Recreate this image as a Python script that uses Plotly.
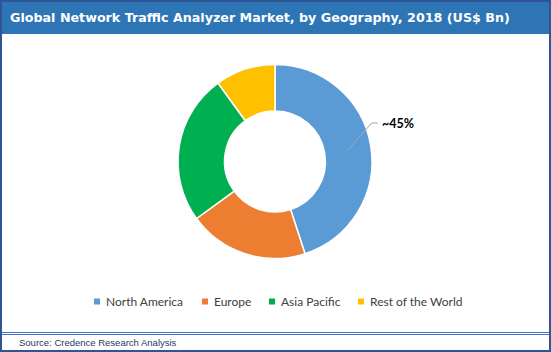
import math
import plotly.graph_objects as go

W, H = 551, 352

regions = ["North America", "Europe", "Asia Pacific", "Rest of the World"]
shares = [45, 20, 25, 10]
colors = ["#5B9BD5", "#ED7D31", "#00B050", "#FFC000"]

title = "Global Network Traffic Analyzer Market, by Geography, 2018 (US$ Bn)"
source = "Source: Credence Research Analysis"

# donut geometry in pixels
cx, cy, R = 275, 161.5, 97
hole = 0.52

# legend layout (pixel x of each swatch), row centre
legend_x = [94, 202, 269, 358]
legend_y = 301.5
sw = 6

def px(x):
    return x / W

def py(y):
    return 1 - y / H

fig = go.Figure()
fig.add_trace(go.Pie(
    labels=regions, values=shares, hole=hole, sort=False, direction="clockwise",
    rotation=0, marker=dict(colors=colors, line=dict(color="white", width=1.5)),
    textinfo="none", hoverinfo="label+percent", showlegend=False,
    domain=dict(x=[px(cx - R), px(cx + R)], y=[py(cy + R), py(cy - R)]),
))

# leader line + label for the largest slice, computed from data
total = sum(shares)
mid_ang = math.radians(shares[0] / total * 360 / 2)
rmid = R * (1 + hole) / 2
ax0 = cx + rmid * math.sin(mid_ang)
ay0 = cy - rmid * math.cos(mid_ang)
ex, ey = ax0 + 24, ay0 - 27
hx = ex + 6
fig.add_shape(type="path", xref="paper", yref="paper",
              path=f"M {px(ax0)} {py(ay0)} L {px(ex)} {py(ey)} L {px(hx)} {py(ey)}",
              line=dict(color="#A6A6A6", width=1))
fig.add_annotation(x=px(hx + 2), y=py(ey + 1), xref="paper", yref="paper",
                   text=f"<b>~{shares[0]}%</b>", showarrow=False, xanchor="left",
                   yanchor="middle", font=dict(family="Lato", size=12.5, color="#000000"))

# legend (swatches + labels)
for name, col, lx in zip(regions, colors, legend_x):
    fig.add_shape(type="rect", xref="paper", yref="paper",
                  x0=px(lx), x1=px(lx + sw), y0=py(legend_y + sw / 2), y1=py(legend_y - sw / 2),
                  fillcolor=col, line=dict(width=0))
    fig.add_annotation(x=px(lx + sw + 4), y=py(legend_y), xref="paper", yref="paper",
                       text=name, showarrow=False, xanchor="left", yanchor="middle",
                       font=dict(family="Lato", size=12, color="#404040"))

# title bar
fig.add_shape(type="rect", xref="paper", yref="paper", x0=0, x1=1, y0=py(34), y1=1,
              fillcolor="#2E75B6", line=dict(width=0), layer="below")
fig.add_annotation(x=px(8), y=py(17), xref="paper", yref="paper", text=f"<b>{title}</b>",
                   showarrow=False, xanchor="left", yanchor="middle",
                   font=dict(family="DejaVu Sans", size=12.7, color="white"))

# footer lines
for yy in (332.5, 334.5):
    fig.add_shape(type="line", xref="paper", yref="paper", x0=0, x1=1, y0=py(yy), y1=py(yy),
                  line=dict(color="#4472C4", width=1))
fig.add_annotation(x=px(17), y=py(342.5), xref="paper", yref="paper", text=source,
                   showarrow=False, xanchor="left", yanchor="middle",
                   font=dict(family="Liberation Sans", size=9.5, color="#1F3864"))

# outer border
fig.add_shape(type="rect", xref="paper", yref="paper", x0=px(1), x1=px(550), y0=py(351), y1=py(1),
              line=dict(color="#2F5597", width=2), fillcolor="rgba(0,0,0,0)")

fig.update_layout(
    width=W, height=H, margin=dict(l=0, r=0, t=0, b=0),
    paper_bgcolor="white", plot_bgcolor="white",
    showlegend=False,
)

fig.write_html("out.html")
